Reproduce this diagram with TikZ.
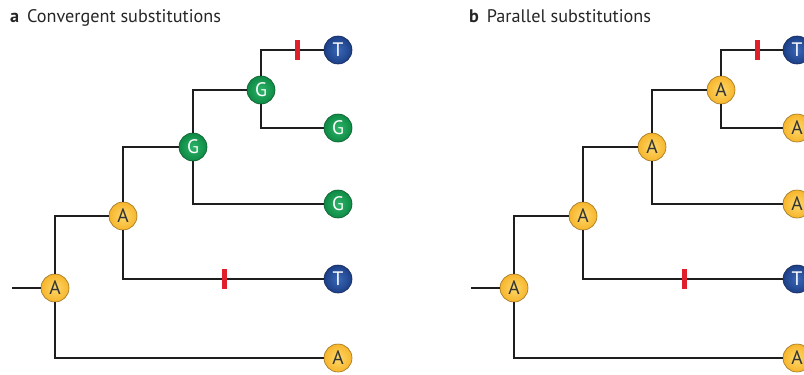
\documentclass[tikz,border=0pt]{standalone}
\usepackage{fontspec}
\setmainfont{PT Sans}
\usetikzlibrary{calc}
\definecolor{ayel}{HTML}{F7B52C}
\definecolor{ayelin}{HTML}{FDD86A}
\definecolor{aedge}{HTML}{9A7420}
\definecolor{ggrn}{HTML}{0E8A45}
\definecolor{ggrnin}{HTML}{2DB468}
\definecolor{gedge}{HTML}{0A5A2C}
\definecolor{tblu}{HTML}{1C3F86}
\definecolor{tbluin}{HTML}{3A68B8}
\definecolor{tedge}{HTML}{14285A}
\definecolor{barred}{HTML}{E11F2B}
\definecolor{branch}{HTML}{1E1E1E}
\tikzset{
  x=1pt, y=1pt,
  base/.style={circle, minimum size=28pt, inner sep=0pt, line width=0.6pt,
    font=\fontsize{19.5}{19.5}\selectfont},
  nA/.style={base, draw=aedge, shading=radial, inner color=ayelin, outer color=ayel, text=black!80},
  nG/.style={base, draw=gedge, shading=radial, inner color=ggrnin, outer color=ggrn, text=white},
  nT/.style={base, draw=tedge, shading=radial, inner color=tbluin, outer color=tblu, text=white},
  br/.style={draw=branch, line width=2.5pt},
  mutbar/.style={rectangle, fill=barred, minimum width=5pt, minimum height=20pt, inner sep=0pt},
  ttl/.style={anchor=base west, inner sep=0pt, font=\fontsize{18.2}{18.2}\selectfont, text=black!85},
}
\begin{document}
\begin{tikzpicture}
\useasboundingbox (0,0) rectangle (804,-375);
\clip (0,0) rectangle (804,-375);

% titles
\node[ttl] (ta) at (10,-22) {\textbf{a}\, Convergent substitutions};
\node[ttl] (tb) at (469,-22) {\textbf{b}\, Parallel substitutions};

% ---------- panel a ----------
\node[nA] (a1) at (55,-288) {A};
\node[nA] (a2) at (123,-216) {A};
\node[nG] (a3) at (193,-147) {G};
\node[nG] (a4) at (261,-90) {G};
\node[nT] (aL1) at (338,-50) {T};
\node[nG] (aL2) at (338,-128) {G};
\node[nG] (aL3) at (338,-204) {G};
\node[nT] (aL4) at (338,-279) {T};
\node[nA] (aL5) at (338,-358) {A};
\coordinate (aR) at (12,-288);
\draw[br] (aR) -- (a1);
\draw[br] (a1) |- (a2);
\draw[br] (a1) |- (aL5);
\draw[br] (a2) |- (a3);
\draw[br] (a2) |- (aL4);
\draw[br] (a3) |- (a4);
\draw[br] (a3) |- (aL3);
\draw[br] (a4) |- (aL1);
\draw[br] (a4) |- (aL2);
\node[mutbar] (aB1) at (297,-50) {};
\node[mutbar] (aB2) at (224,-279) {};

% ---------- panel b ----------
\node[nA] (b1) at (514,-288) {A};
\node[nA] (b2) at (583,-216) {A};
\node[nA] (b3) at (652,-147) {A};
\node[nA] (b4) at (721,-90) {A};
\node[nT] (bL1) at (797,-50) {T};
\node[nA] (bL2) at (797,-128) {A};
\node[nA] (bL3) at (797,-204) {A};
\node[nT] (bL4) at (797,-279) {T};
\node[nA] (bL5) at (797,-358) {A};
\coordinate (bR) at (471,-288);
\draw[br] (bR) -- (b1);
\draw[br] (b1) |- (b2);
\draw[br] (b1) |- (bL5);
\draw[br] (b2) |- (b3);
\draw[br] (b2) |- (bL4);
\draw[br] (b3) |- (b4);
\draw[br] (b3) |- (bL3);
\draw[br] (b4) |- (bL1);
\draw[br] (b4) |- (bL2);
\node[mutbar] (bB1) at (757,-50) {};
\node[mutbar] (bB2) at (684,-279) {};
\end{tikzpicture}
\end{document}
